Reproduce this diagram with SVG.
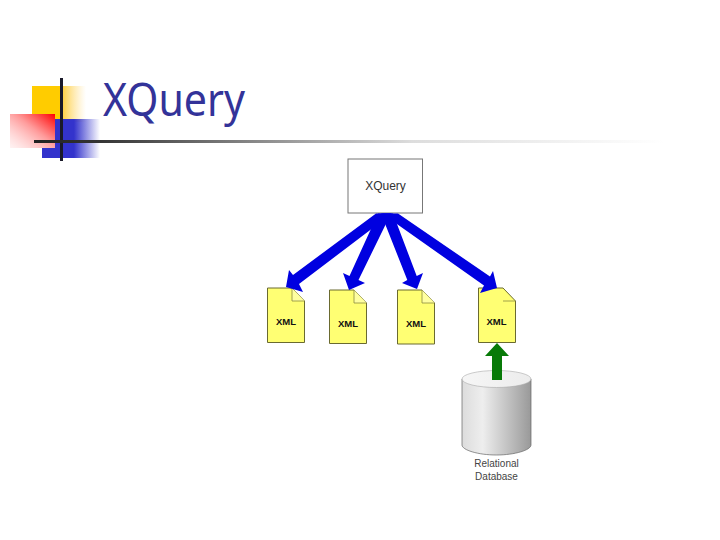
<svg xmlns="http://www.w3.org/2000/svg" width="720" height="540" viewBox="0 0 720 540">
<style>
.doc{fill:#ffff73;stroke:#6a6a30;stroke-width:1}
.fold{fill:#ffffa0;stroke:#8a8a40;stroke-width:.8}
.dl{font:bold 9.5px "Liberation Sans",Arial,sans-serif;fill:#111;text-anchor:middle}
.lab{font:10px "Liberation Sans",Arial,sans-serif;fill:#444;text-anchor:middle}
.arrow{fill:#0000e0}
</style>
<defs>
<linearGradient id="y" x1="0" x2="1" y1="0" y2="0"><stop offset="0" stop-color="#ffcc00"/><stop offset=".52" stop-color="#ffcc00"/><stop offset=".56" stop-color="#ffd040" /><stop offset="1" stop-color="#ffdd88" stop-opacity="0"/></linearGradient>
<linearGradient id="b" x1="0" x2="1" y1="0" y2="0"><stop offset="0" stop-color="#3333cc"/><stop offset=".55" stop-color="#3333cc"/><stop offset="1" stop-color="#3333cc" stop-opacity="0"/></linearGradient>
<linearGradient id="r" x1="1" x2="0" y1="0" y2="1"><stop offset="0" stop-color="#ff0000"/><stop offset=".45" stop-color="#ff9090" stop-opacity=".9"/><stop offset="1" stop-color="#ffe0e0" stop-opacity=".4"/></linearGradient>
<linearGradient id="l" x1="0" x2="1" y1="0" y2="0"><stop offset="0" stop-color="#222"/><stop offset=".1" stop-color="#333"/><stop offset=".35" stop-color="#888"/><stop offset=".6" stop-color="#ddd"/><stop offset="1" stop-color="#fff"/></linearGradient>
<linearGradient id="c" x1="0" x2="1" y1="0" y2="0"><stop offset="0" stop-color="#dcdcdc"/><stop offset=".3" stop-color="#eeeeee"/><stop offset="1" stop-color="#999"/></linearGradient>
<linearGradient id="ct" x1="0" x2="1" y1="0" y2="0"><stop offset="0" stop-color="#f6f6f6"/><stop offset="1" stop-color="#ececec"/></linearGradient>
</defs>
<rect width="720" height="540" fill="#fff"/>
<g id="logo">
<rect x="32" y="86" width="54" height="36" fill="url(#y)"/>
<rect x="42" y="119" width="58" height="39" fill="url(#b)"/>
<rect x="10" y="114" width="45" height="34" fill="#fff"/>
<rect x="10" y="114" width="45" height="34" fill="url(#r)"/>
<rect x="60" y="78" width="3" height="83" fill="#1a1a2a"/>
<rect x="34" y="140" width="630" height="3" fill="url(#l)"/>
</g>
<text id="title" x="103" y="116" font-family="'Noto Sans','DejaVu Sans',sans-serif" font-size="45" fill="#333399" textLength="142" lengthAdjust="spacingAndGlyphs">XQuery</text>
<g id="xquery">
<rect x="348" y="159" width="74.500" height="54" fill="#fff" stroke="#777" stroke-width="1"/>
<text x="385.500" y="190" font-family="'Liberation Sans',Arial,sans-serif" font-size="12" fill="#333" text-anchor="middle">XQuery</text>
</g>
<g id="doc1"><path class="doc" d="M267.500 288H292L304.500 301V342.500H267.500Z"/><path class="fold" d="M292 288V301H304.500"/><text class="dl" x="286" y="325">XML</text></g>
<g id="doc2"><path class="doc" d="M329.500 290H354L366.500 303V343.500H329.500Z"/><path class="fold" d="M354 290V303H366.500"/><text class="dl" x="348" y="327">XML</text></g>
<g id="doc3"><path class="doc" d="M397.500 290H422L434.500 303V344H397.500Z"/><path class="fold" d="M422 290V303H434.500"/><text class="dl" x="416" y="327">XML</text></g>
<g id="doc4"><path class="doc" d="M478.500 288H503L515.500 301V342.500H478.500Z"/><path class="fold" d="M503 301H515.500" fill="none"/><text class="dl" x="496.500" y="325">XML</text></g>
<g id="database">
<path d="M462 379V445C462 450 478 455 496.500 455S531 450 531 445V379Z" fill="url(#c)" stroke="#666" stroke-width=".7"/>
<ellipse cx="496.500" cy="379" rx="34.500" ry="8.500" fill="url(#ct)" stroke="#aaa" stroke-width=".6"/>
<text class="lab" x="496.500" y="467">Relational</text>
<text class="lab" x="496.500" y="480">Database</text>
</g>
<g id="connectors">
<path class="arrow" d="M376 213.500H392L299 284L303 292L286 287L289 270L293 275Z"/>
<path class="arrow" d="M378 213.500H391L358.500 280L365 283L349 290L343 273L349.500 276Z"/>
<path class="arrow" d="M381 213.500H393L416.700 276L423 273L417 289L402 283L407.300 280Z"/>
<path class="arrow" d="M382 213.500H398L490 276.500L493 271L497 288L480 293L484 285.500Z"/>
<path d="M497 343L509 356H502V380H492V356H485Z" fill="#087a08"/>
</g>
</svg>
